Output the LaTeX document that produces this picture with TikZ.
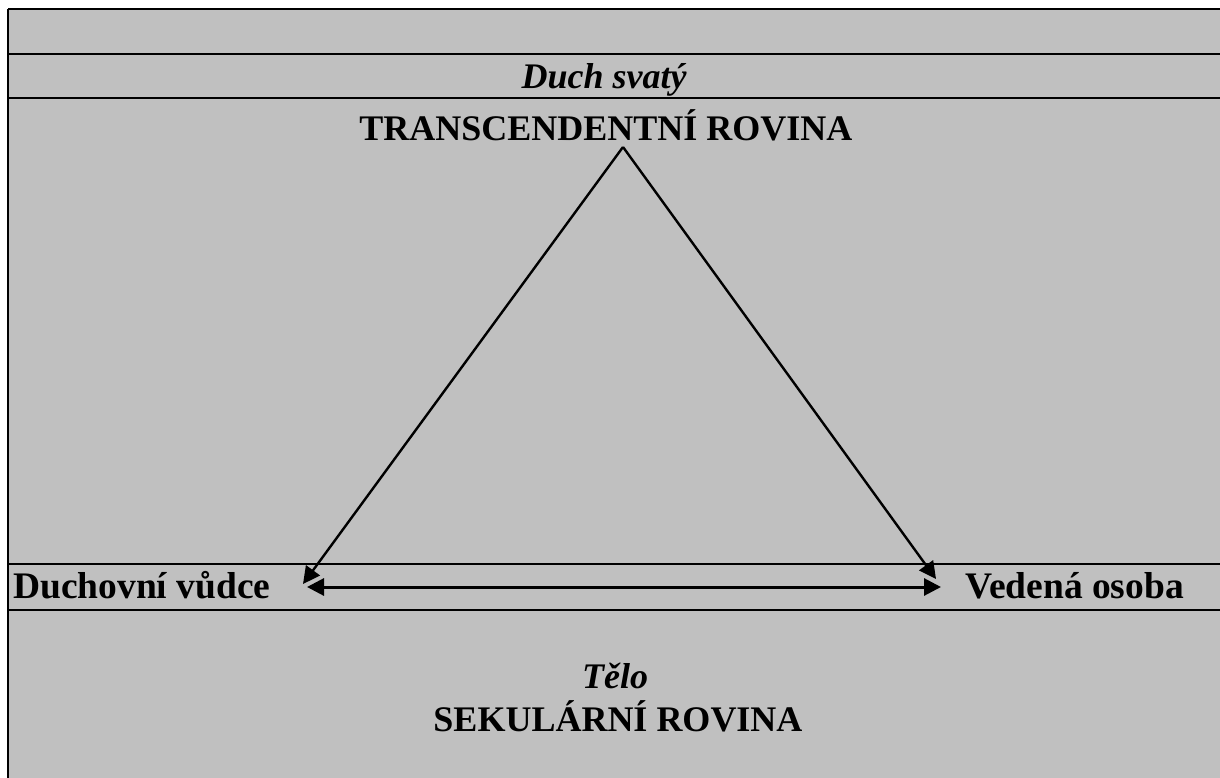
\documentclass[tikz,border=0pt]{standalone}
\usepackage{fontspec}
\setmainfont{Liberation Serif}
\usetikzlibrary{arrows.meta}
\definecolor{panelgray}{HTML}{C0C0C0}
\tikzset{
  rule/.style={line width=2.6pt, black},
  label/.style={font=\fontsize{36}{40}\selectfont\bfseries, inner sep=0pt},
  sidelabel/.style={font=\fontsize{37.5}{40}\selectfont\bfseries, inner sep=0pt},
  ilabel/.style={font=\fontsize{36}{40}\selectfont\bfseries\itshape, inner sep=0pt},
  conn/.style={line width=2.4pt, -{Triangle[length=17pt,width=17pt]}},
  biconn/.style={line width=3pt, {Triangle[length=17pt,width=17pt]}-{Triangle[length=17pt,width=17pt]}}
}
\begin{document}
\begin{tikzpicture}[x=1pt,y=-1pt]
\useasboundingbox (0,0) rectangle (1220,778);
\fill[panelgray] (8,9) rectangle (1220,778);
\draw[rule] (8,9) -- (1220,9);
\draw[rule] (8,9) -- (8,778);
\draw[rule] (8,54) -- (1220,54);
\draw[rule] (8,98) -- (1220,98);
\draw[rule] (8,564) -- (1220,564);
\draw[rule] (8,610) -- (1220,610);
\node[ilabel, anchor=base] (duch) at (604,89) {Duch svatý};
\node[label, anchor=base] (trans) at (606,141) {TRANSCENDENTNÍ ROVINA};
\node[sidelabel, anchor=base west] (vudce) at (13,598) {Duchovní vůdce};
\node[sidelabel, anchor=base east] (osoba) at (1184,598) {Vedená osoba};
\node[ilabel, anchor=base] (telo) at (615,688) {Tělo};
\node[label, anchor=base] (sek) at (618,731) {SEKULÁRNÍ ROVINA};
\coordinate (apex) at (623,147);
\coordinate (L) at (303,584);
\coordinate (R) at (936,579);
\coordinate (HL) at (307,587);
\coordinate (HR) at (941,587);
\draw[conn] (apex) -- (L);
\draw[conn] (apex) -- (R);
\draw[biconn] (HL) -- (HR);
\end{tikzpicture}
\end{document}
